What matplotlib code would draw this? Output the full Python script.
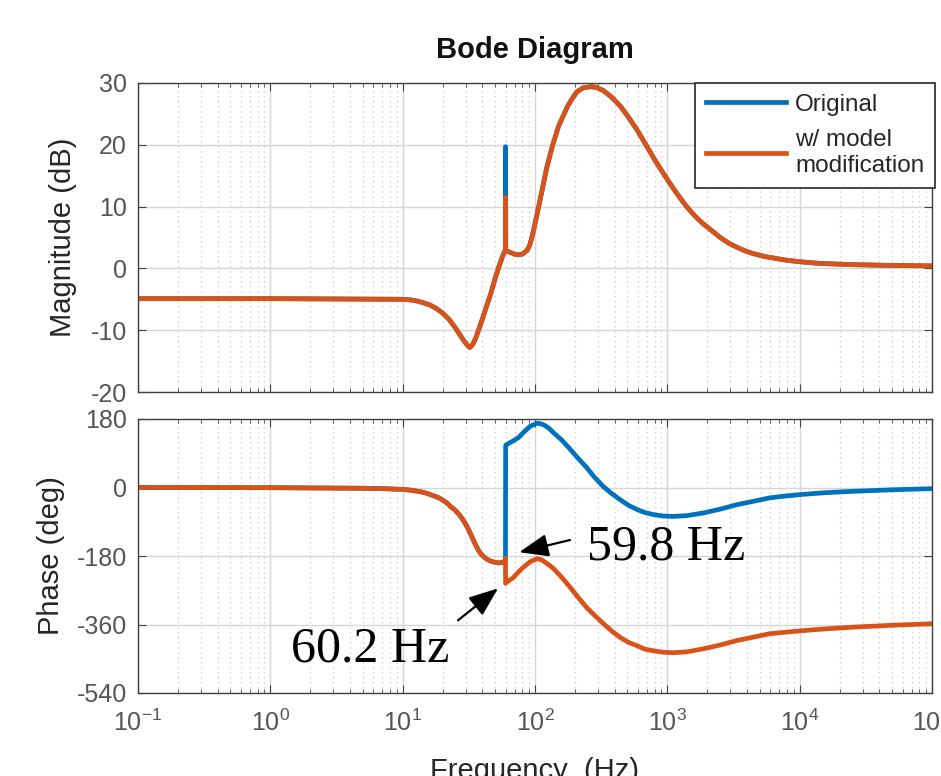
import matplotlib
matplotlib.use("Agg")
import matplotlib.pyplot as plt
import numpy as np

# --- Data ---
# Magnitude (dB); both models overlap except for the 60 Hz spike
mag_freq = [0.1, 1, 10, 11.5, 13, 14.5, 16, 18, 20, 22.5,
            25, 27, 29, 30.5, 32, 33, 34, 35.5, 37, 39,
            41, 43.5, 46, 50, 54, 57.4, 59.5, 59.9, 60.0, 60.1,
            61, 65, 70, 74.5, 80, 87, 91, 95, 99, 104,
            113, 123, 135, 150, 175, 190, 208, 230, 261, 290,
            327, 380, 440, 500, 591, 680, 781, 900, 1050, 1200,
            1410, 1630, 1870, 2200, 2510, 2900, 3370, 3900, 4450, 5500,
            8040, 11000, 14300, 25400, 45000, 1e5]
mag_mod = [-4.9, -4.9, -5.0, -5.1, -5.3, -5.6, -5.9, -6.5, -7.2, -8.3,
           -9.6, -10.7, -11.7, -12.3, -12.8, -12.6, -12.2, -11.4, -10.3, -8.9,
           -7.5, -5.8, -4.3, -1.6, 0.6, 2.2, 2.9, 3.0, 11.5, 3.0,
           2.8, 2.6, 2.3, 2.2, 2.3, 2.9, 3.7, 5.1, 6.8, 8.9,
           12.6, 16.4, 19.7, 22.9, 26.1, 27.4, 28.6, 29.2, 29.4, 29.3,
           28.8, 27.7, 26.3, 24.7, 22.4, 20.2, 18.0, 15.9, 13.7, 11.9,
           9.9, 8.4, 7.2, 6.0, 5.0, 4.1, 3.4, 2.8, 2.4, 1.9,
           1.3, 1.0, 0.8, 0.6, 0.5, 0.4]
spike_freq = 60.0
spike_orig = 19.7

# Phase (deg), shared part below the notch
ph_freq_low = [0.1, 1, 5, 7, 10, 11.5, 13, 14.5, 16, 17.5,
               19, 21.5, 23, 25, 27, 28.6, 30, 31, 32.5, 34,
               35.5, 37, 38.5, 40.5, 42, 44, 46, 48, 50, 53,
               57.4, 59.5, 59.8]
ph_low = [0, -0.5, -2, -3, -5, -7, -10, -13, -18, -23,
          -28, -40, -50, -60, -73, -85, -97, -106, -121, -136,
          -150, -162, -172, -180, -185, -190, -193, -195, -197, -198,
          -197, -192, -186]

# Phase above the notch, per model
ph_freq_high = [60.0, 60.5, 64, 68, 75, 82, 92, 104, 112, 120,
                128, 137, 160, 184, 210, 245, 280, 327, 380, 440,
                510, 591, 680, 781, 930, 1108, 1400, 1866, 2500, 3372,
                4500, 5985, 8000, 10620, 15000, 25350, 50000, 1e5]
ph_orig_high = [109, 112, 117, 122, 131, 145, 161, 169, 167, 162,
                155, 145, 124, 101, 78, 53, 28, 3, -16, -32,
                -47, -58, -66, -71, -75, -76, -74, -67, -57, -45,
                -36, -27, -22, -18, -14, -10, -6, -3]
ph_mod_high = [-252, -250, -244, -238, -222, -209, -195, -187, -190, -197,
               -204, -212, -237, -262, -287, -315, -335, -357, -377, -394,
               -407, -416, -425, -429, -433, -434, -432, -424, -414, -402,
               -393, -384, -380, -376, -372, -367, -362, -358]

xticks = [0.1, 1, 10, 100, 1000, 1e4, 1e5]
xtick_labels = ["$10^{-1}$", "$10^{0}$", "$10^{1}$", "$10^{2}$", "$10^{3}$",
                "$10^{4}$", "$10^{5}$"]
mag_ticks = [-20, -10, 0, 10, 20, 30]
ph_ticks = [-540, -360, -180, 0, 180]

BLUE = "#0072BD"
ORANGE = "#D95319"
LW = 3.4

plt.rcParams["font.family"] = ["Liberation Sans", "DejaVu Sans"]
plt.rcParams["mathtext.default"] = "regular"
plt.rcParams["axes.unicode_minus"] = False

W, H = 941, 776
fig = plt.figure(figsize=(W / 100, H / 100), dpi=100)


def px_axes(left, top, right, bottom):
    return [left / W, 1 - bottom / H, (right - left) / W, (bottom - top) / H]


ax1 = fig.add_axes(px_axes(138, 83, 932, 392))
ax2 = fig.add_axes(px_axes(138, 419, 932, 693))

mag_orig = list(mag_mod)
mag_orig[mag_freq.index(spike_freq)] = spike_orig

ax1.plot(mag_freq, mag_orig, color=BLUE, lw=LW, label="Original")
ax1.plot(mag_freq, mag_mod, color=ORANGE, lw=LW, label="w/ model\nmodification")

ax2.plot(ph_freq_low + ph_freq_high, ph_low + ph_orig_high, color=BLUE, lw=LW)
ax2.plot(ph_freq_low + ph_freq_high, ph_low + ph_mod_high, color=ORANGE, lw=LW)

for ax in (ax1, ax2):
    ax.set_xscale("log")
    ax.set_xlim(0.1, 1e5)
    ax.set_xticks(xticks)
    ax.xaxis.set_minor_locator(matplotlib.ticker.LogLocator(base=10, subs=np.arange(2, 10), numticks=20))
    ax.xaxis.set_minor_formatter(matplotlib.ticker.NullFormatter())
    ax.grid(True, which="major", color="#d6d6d6", lw=1.0)
    ax.grid(True, which="minor", axis="x", color="#c8c8c8", lw=0.9, linestyle=(0, (1, 3)))
    ax.set_axisbelow(True)
    ax.tick_params(which="both", direction="in", top=True, right=True,
                   colors="#404040", labelcolor="#555555", labelsize=18)
    ax.tick_params(which="major", length=6)
    ax.tick_params(which="minor", length=3)
    for s in ax.spines.values():
        s.set_color("#404040")
        s.set_linewidth(1.0)

ax1.set_ylim(-20, 30)
ax1.set_yticks(mag_ticks)
ax1.set_xticklabels([])
ax1.tick_params(axis="y", pad=8)

ax2.set_ylim(-540, 180)
ax2.set_yticks(ph_ticks)
ax2.set_xticklabels(xtick_labels)
ax2.tick_params(axis="x", pad=12)
ax2.tick_params(axis="y", pad=8)

ax1.set_ylabel("Magnitude (dB)", fontsize=21, color="#262626")
ax1.yaxis.set_label_coords(-0.077, 0.5)
ax2.set_ylabel("Phase (deg)", fontsize=21, color="#262626")
ax2.yaxis.set_label_coords(-0.092, 0.5)
ax2.set_xlabel("Frequency  (Hz)", fontsize=21, color="#262626")
ax2.xaxis.set_label_coords(0.5, -0.235)

fig.text(535 / W, 1 - 50 / H, "Bode Diagram", fontsize=21, fontweight="bold",
         ha="center", va="center", color="#111111")

leg = ax1.legend(loc="upper right", bbox_to_anchor=(1.004, 1.0), borderaxespad=0,
                 fontsize=17.5, frameon=True, fancybox=False, handlelength=3.3,
                 handletextpad=0.35, borderpad=0.45, labelspacing=0.55)
leg.get_frame().set_edgecolor("#262626")
leg.get_frame().set_linewidth(1.2)
leg.get_frame().set_alpha(1.0)
for t in leg.get_texts():
    t.set_color("#262626")
    t.set_linespacing(1.2)

arrow = dict(arrowstyle="-|>,head_length=0.9,head_width=0.35", color="black",
             lw=1.6, mutation_scale=20, shrinkA=0, shrinkB=0)
ax2.annotate("", xy=(76, -170), xytext=(184, -138), arrowprops=arrow)
ax2.text(248, -156, "59.8 Hz", fontsize=36, ha="left", va="center",
         family=["Liberation Serif", "DejaVu Serif"], color="black")
ax2.annotate("", xy=(52.6, -265), xytext=(26.2, -349), arrowprops=arrow)
ax2.text(5.67, -424, "60.2 Hz", fontsize=36, ha="center", va="center",
         family=["Liberation Serif", "DejaVu Serif"], color="black")

fig.savefig("out.png", dpi=100)
